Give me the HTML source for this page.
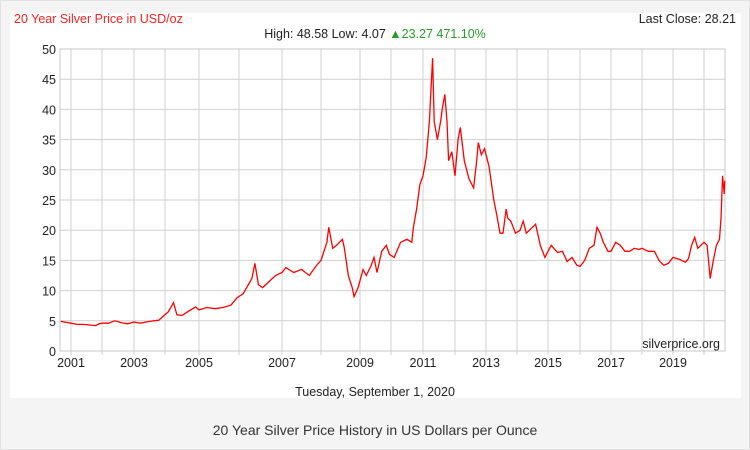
<!DOCTYPE html>
<html><head><meta charset="utf-8"><style>
body{margin:0;width:750px;height:450px;background:#f4f4f4;font-family:"Liberation Sans",sans-serif;overflow:hidden}
#frame{position:absolute;left:0;top:0;width:748px;height:448px;border:1px solid #e2e2e2;background:#f4f4f4}
#panel{position:absolute;left:10px;top:13px;width:731px;height:385px;background:#fff}
</style></head><body>
<div id="frame"></div>
<div id="panel"></div>
<svg width="750" height="450" style="position:absolute;left:0;top:0">
<g id="grid"></g>
<polyline id="line" fill="none" stroke="#ff0000" stroke-width="1.3"/>
<g id="axes"></g>
<text x="14" y="23" font-size="12.5" fill="#ff2020">20 Year Silver Price in USD/oz</text>
<text x="736" y="23" font-size="12.5" fill="#222" text-anchor="end">Last Close: 28.21</text>
<text x="375" y="38" font-size="12.5" text-anchor="middle"><tspan fill="#222">High: 48.58 Low: 4.07 </tspan><tspan fill="#2a9a2a">▲23.27 471.10%</tspan></text>
<text x="720" y="348" font-size="12.5" fill="#222" text-anchor="end">silverprice.org</text>
<text x="375" y="396" font-size="12.5" fill="#222" text-anchor="middle">Tuesday, September 1, 2020</text>
<text x="375" y="435" font-size="14" fill="#333" text-anchor="middle">20 Year Silver Price History in US Dollars per Ounce</text>
</svg>
<script>
const yearTicks=[2001,2002,2003,2004,2005,2006,2007,2008,2009,2010,2011,2012,2013,2014,2015,2016,2017,2018,2019,2020];
const yearLabels=[2001,2003,2005,2007,2009,2011,2013,2015,2017,2019];
const yTicks=[0,5,10,15,20,25,30,35,40,45,50];
const times=[2000.67,2000.9,2001.0,2001.2,2001.4,2001.6,2001.8,2001.9,2002.0,2002.2,2002.4,2002.6,2002.8,2003.0,2003.2,2003.5,2003.8,2003.95,2004.1,2004.25,2004.35,2004.5,2004.7,2004.9,2005.0,2005.2,2005.4,2005.6,2005.8,2005.95,2006.1,2006.3,2006.37,2006.45,2006.55,2006.7,2006.85,2007.0,2007.1,2007.3,2007.5,2007.7,2007.9,2008.0,2008.15,2008.2,2008.3,2008.4,2008.55,2008.6,2008.7,2008.8,2008.85,2008.95,2009.1,2009.2,2009.35,2009.45,2009.55,2009.7,2009.85,2009.95,2010.1,2010.3,2010.5,2010.65,2010.7,2010.8,2010.9,2011.0,2011.1,2011.2,2011.3,2011.35,2011.45,2011.55,2011.6,2011.68,2011.75,2011.8,2011.9,2012.0,2012.1,2012.17,2012.3,2012.45,2012.6,2012.7,2012.75,2012.85,2012.95,2013.1,2013.25,2013.35,2013.45,2013.55,2013.65,2013.7,2013.8,2013.95,2014.1,2014.2,2014.3,2014.5,2014.6,2014.75,2014.9,2015.0,2015.1,2015.3,2015.45,2015.6,2015.75,2015.9,2016.0,2016.15,2016.3,2016.45,2016.55,2016.65,2016.75,2016.9,2017.0,2017.15,2017.3,2017.45,2017.6,2017.75,2017.9,2018.0,2018.2,2018.4,2018.55,2018.7,2018.85,2019.0,2019.2,2019.4,2019.5,2019.6,2019.7,2019.8,2019.9,2020.0,2020.1,2020.2,2020.3,2020.4,2020.5,2020.55,2020.6,2020.65,2020.67];
const prices=[4.9,4.7,4.6,4.4,4.4,4.3,4.2,4.5,4.6,4.6,5.0,4.7,4.5,4.8,4.6,4.9,5.1,5.8,6.5,8.0,6.0,5.9,6.6,7.3,6.8,7.2,7.0,7.2,7.6,8.8,9.5,12.0,14.5,11.0,10.5,11.5,12.5,13.0,13.8,13.0,13.5,12.5,14.3,15.0,18.0,20.5,17.0,17.5,18.5,17.0,12.5,10.5,9.0,10.5,13.5,12.5,14.0,15.5,13.0,16.5,17.5,16.0,15.5,18.0,18.5,18.0,20.5,23.5,27.5,29.0,32.0,38.0,48.5,38.0,35.0,38.0,40.0,42.5,38.0,31.5,33.0,29.0,35.0,37.0,31.5,28.5,27.0,31.5,34.5,32.5,33.5,30.5,25.0,22.5,19.5,19.5,23.5,22.0,21.5,19.5,20.0,21.5,19.5,20.5,21.0,17.5,15.5,16.5,17.5,16.3,16.5,14.8,15.5,14.2,14.0,15.0,17.0,17.5,20.5,19.5,18.0,16.5,16.5,18.0,17.5,16.5,16.5,17.0,16.8,17.0,16.5,16.5,15.0,14.2,14.5,15.5,15.2,14.7,15.3,17.5,18.8,17.0,17.5,18.0,17.5,12.0,15.0,17.5,18.5,22.0,29.0,26.0,28.2];
const ns="http://www.w3.org/2000/svg";
const gridPx=[71,102,134,165,199,239,282,321,360,391,423,455,486,517,548,580,611,642,673,704];
const L=60,R=725,T=49,B=351;
function xScale(t){
  if(t<=2001) return gridPx[0]-(2001-t)*31;
  const i=Math.min(Math.floor(t-2001),18);
  const next=i<19?gridPx[i+1]:gridPx[19]+31;
  return gridPx[i]+(t-2001-i)*(next-gridPx[i]);
}
function yScale(v){return B-(v/50)*(B-T);}
const grid=document.getElementById('grid'),axes=document.getElementById('axes');
function mk(tag,attrs,parent){const e=document.createElementNS(ns,tag);for(const k in attrs)e.setAttribute(k,attrs[k]);parent.appendChild(e);return e;}
yTicks.forEach(v=>{
  const y=yScale(v);
  const l=mk('line',{x1:L,x2:R,y1:y,y2:y,stroke:'#d0d0d0','stroke-width':1},grid);
  
  
  const t=mk('text',{x:L-4,y:y+5,'font-size':12.5,fill:'#222','text-anchor':'end'},axes);
  t.textContent=v;
  
  
});
yearTicks.forEach(yr=>{
  const x=xScale(yr);
  const l=mk('line',{x1:x,x2:x,y1:T,y2:B+4,stroke:'#d0d0d0','stroke-width':1},grid);
  
  
});
yearLabels.forEach(yr=>{
  const t=mk('text',{x:xScale(yr),y:B+16,'font-size':12.5,fill:'#222','text-anchor':'middle'},axes);
  t.textContent=yr;
  
  
});
const frameR=mk('rect',{x:L,y:T,width:R-L,height:B-T,fill:'none',stroke:'#c8c8c8'},grid);


document.getElementById('line').setAttribute('points',times.map((t,i)=>xScale(t).toFixed(1)+','+yScale(prices[i]).toFixed(1)).join(' '));
</script>
</body></html>
